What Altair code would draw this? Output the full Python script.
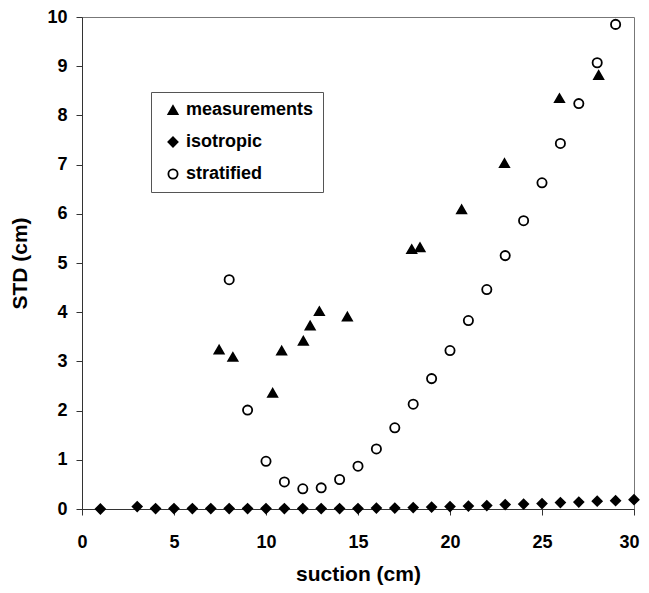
import altair as alt
import pandas as pd

meas_x = [7.45, 8.2, 10.36, 10.85, 12.03, 12.4, 12.9, 14.42, 17.92, 18.37, 20.63, 22.96, 25.95, 28.08]
meas_y = [3.24, 3.09, 2.36, 3.22, 3.42, 3.73, 4.02, 3.91, 5.28, 5.32, 6.09, 7.03, 8.35, 8.82]

iso_x = [1, 3, 4, 5, 6, 7, 8, 9, 10, 11, 12, 13, 14, 15, 16, 17, 18, 19, 20, 21, 22, 23, 24, 25, 26, 27, 28, 29, 30]
iso_y = [0.0, 0.05, 0.01, 0.01, 0.01, 0.01, 0.01, 0.01, 0.01, 0.01, 0.01, 0.01, 0.01, 0.01, 0.02, 0.02, 0.03, 0.04,
         0.05, 0.06, 0.07, 0.09, 0.10, 0.11, 0.13, 0.14, 0.16, 0.17, 0.19]

strat_x = [8, 9, 10, 11, 12, 13, 14, 15, 16, 17, 18, 19, 20, 21, 22, 23, 24, 25, 26, 27, 28, 29]
strat_y = [4.66, 2.01, 0.97, 0.55, 0.41, 0.43, 0.60, 0.87, 1.22, 1.65, 2.13, 2.65, 3.22, 3.83, 4.46, 5.15, 5.86,
           6.63, 7.43, 8.24, 9.07, 9.85]

series = ["measurements", "isotropic", "stratified"]

rows = []
for x, y in zip(iso_x, iso_y):
    rows.append({"x": x, "y": y, "series": "isotropic"})
for x, y in zip(strat_x, strat_y):
    rows.append({"x": x, "y": y, "series": "stratified"})
for x, y in zip(meas_x, meas_y):
    rows.append({"x": x, "y": y, "series": "measurements"})
df = pd.DataFrame(rows)

FONT = "Liberation Sans"

chart = alt.Chart(df).mark_point(size=85, strokeWidth=1.8, opacity=1).encode(
    x=alt.X("x:Q", title="suction (cm)",
            scale=alt.Scale(domain=[0, 30], nice=False),
            axis=alt.Axis(values=[0, 5, 10, 15, 20, 25, 30], grid=False, tickSize=6,
                          labelFlush=True, labelFlushOffset=5,
                          labelFontSize=18, labelFontWeight="bold", labelPadding=18,
                          titleFontSize=21, titleFontWeight="bold", titlePadding=12)),
    y=alt.Y("y:Q", title="STD (cm)",
            scale=alt.Scale(domain=[0, 10], nice=False),
            axis=alt.Axis(values=list(range(0, 11)), grid=False, tickSize=6, labelFlush=False,
                          labelFontSize=18, labelFontWeight="bold", labelPadding=9,
                          titleFontSize=21, titleFontWeight="bold", titlePadding=16)),
    shape=alt.Shape("series:N", title=None,
                    scale=alt.Scale(domain=series, range=["triangle-up", "diamond", "circle"])),
    fill=alt.Fill("series:N", title=None,
                  scale=alt.Scale(domain=series, range=["black", "black", "white"])),
    stroke=alt.Stroke("series:N", title=None,
                      scale=alt.Scale(domain=series, range=["black", "black", "black"])),
    order=alt.Order("series:N"),
).properties(
    width=552, height=492,
    autosize=alt.AutoSizeParams(type="none"),
    padding={"left": 74, "top": 9, "right": 7, "bottom": 76},
).configure_axis(
    labelFont=FONT, titleFont=FONT, labelColor="black", titleColor="black",
    domainColor="#333333", tickColor="#333333", domainWidth=1, tickWidth=1,
).configure_legend(
    orient="none", legendX=69, legendY=75,
    strokeColor="#555555", fillColor="white", padding=9,
    labelFont=FONT, labelFontSize=18, labelFontWeight="bold", labelColor="black",
    symbolSize=85, symbolStrokeWidth=1.8, rowPadding=14,
    labelOffset=4, symbolOffset=4,
).configure_view(
    stroke="#777777", strokeWidth=1
)

chart.save("out.html", embed_options={"renderer": "svg", "actions": False})
